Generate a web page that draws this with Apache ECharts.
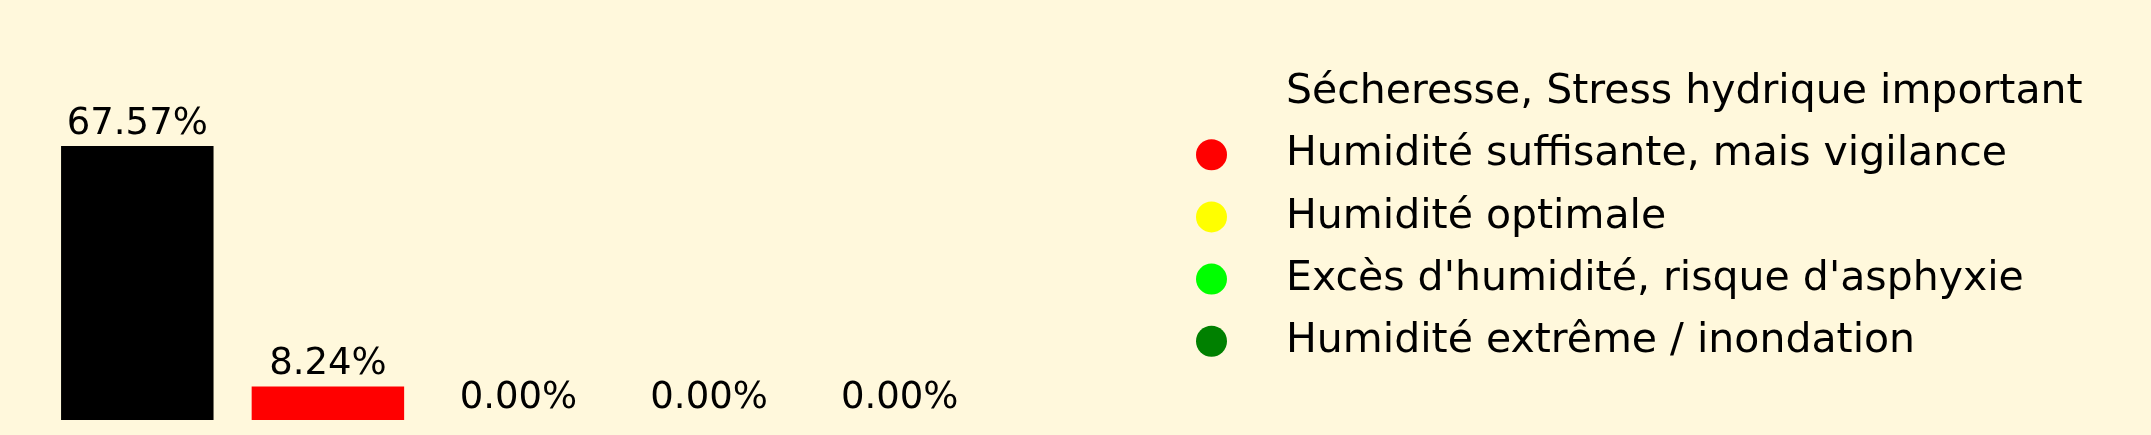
<!DOCTYPE html>
<html lang="fr">
<head>
    <meta charset="UTF-8">
    <title>Humidité du sol</title>
    <script src="https://cdnjs.cloudflare.com/ajax/libs/echarts/6.0.0/echarts.min.js"></script>
    <style>
        html, body { margin: 0; padding: 0; background: #FFF8DC; }
    </style>
</head>
<body>
    <div id="main" style="width: 2151px;height:435px;"></div>
    <script type="text/javascript">
        // classes d'humidité (une barre par classe)
        const categories = [
            "Sécheresse, Stress hydrique important",
            "Humidité suffisante, mais vigilance",
            "Humidité optimale",
            "Excès d'humidité, risque d'asphyxie",
            "Humidité extrême / inondation"
        ];
        const percentages = [67.57, 8.24, 0.00, 0.00, 0.00];
        const barColors = ['#000000', '#ff0000', '#ffff00', '#00ff00', '#008000'];

        const chart = echarts.init(document.getElementById('main'));

        // une série par classe, empilées pour garder la barre au centre de sa case
        const series = categories.map((name, i) => ({
            name: name,
            type: 'bar',
            stack: 'all',
            barWidth: '80%',
            itemStyle: { color: barColors[i] },
            label: {
                show: true,
                position: 'top',
                distance: 3,
                color: '#000',
                fontFamily: 'DejaVu Sans',
                fontSize: 37,
                lineHeight: 38,
                formatter: p => p.value.toFixed(2) + '%'
            },
            data: categories.map((c, j) => (j === i ? percentages[i] : '-'))
        }));

        const option = {
            backgroundColor: '#FFF8DC',
            animation: false,
            grid: { left: 42, right: 1156, top: 14.5, bottom: 15 },
            xAxis: { type: 'category', data: categories, show: false },
            yAxis: { type: 'value', min: 0, max: 100, show: false },
            legend: {
                orient: 'vertical',
                left: 1196,
                top: 70,
                padding: 0,
                icon: 'circle',
                itemWidth: 31,
                itemHeight: 31,
                itemGap: 17.2,
                selectedMode: false,
                textStyle: {
                    color: '#000',
                    fontFamily: 'DejaVu Sans',
                    fontSize: 41,
                    lineHeight: 41,
                    padding: [4, 0, 0, 54]
                },
                // le premier marqueur n'est pas affiché
                data: categories.map((c, i) => i === 0 ? { name: c, itemStyle: { opacity: 0 } } : { name: c })
            },
            series: series
        };
        chart.setOption(option);
    </script>
</body>
</html>
